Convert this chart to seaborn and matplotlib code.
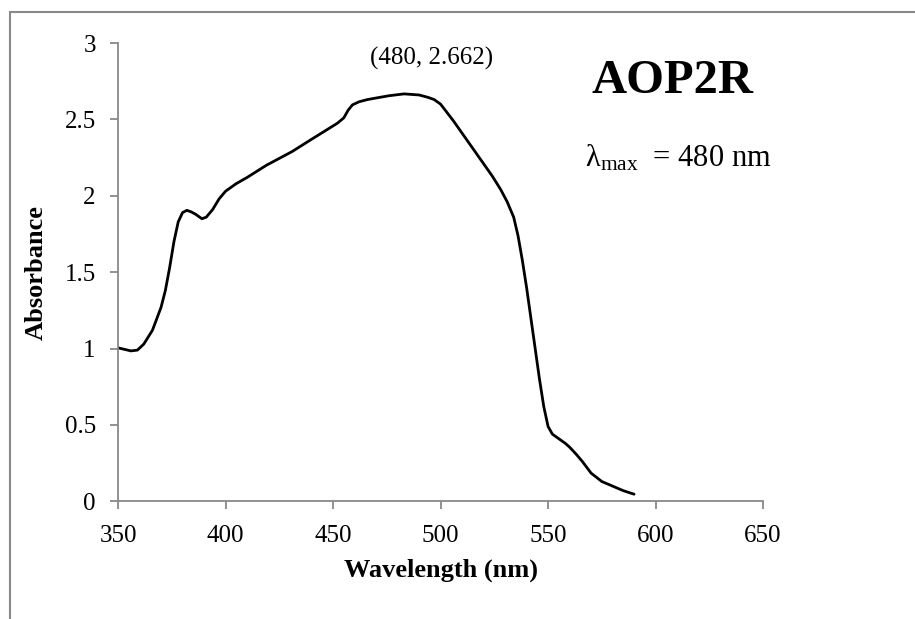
import matplotlib
matplotlib.use("Agg")
import matplotlib.pyplot as plt
import matplotlib.patches as mpatches
import seaborn as sns
import pandas as pd

# spectrum
wavelength = [350, 353, 356, 359, 362, 366, 370, 372, 374, 376, 378, 380, 382, 384,
              386, 389, 391, 394, 397, 400, 405, 410, 419, 431, 440, 448, 452, 455,
              457, 459, 462, 466, 470, 476, 483, 490, 494, 497, 500, 506, 512, 518,
              524, 528, 531, 534, 536, 538, 540, 542, 544, 546, 548, 550, 552, 555,
              558, 560, 563, 566, 570, 575, 580, 585, 590]
absorbance = [1.005, 0.995, 0.985, 0.99, 1.03, 1.12, 1.27, 1.38, 1.53, 1.70, 1.83,
              1.89, 1.905, 1.895, 1.88, 1.85, 1.86, 1.91, 1.98, 2.03, 2.08, 2.12,
              2.2, 2.29, 2.37, 2.44, 2.475, 2.51, 2.56, 2.595, 2.615, 2.63, 2.64,
              2.655, 2.667, 2.66, 2.645, 2.63, 2.60, 2.49, 2.37, 2.25, 2.13, 2.04,
              1.96, 1.86, 1.74, 1.58, 1.40, 1.20, 1.00, 0.80, 0.62, 0.49, 0.44, 0.41,
              0.38, 0.355, 0.31, 0.26, 0.185, 0.13, 0.10, 0.07, 0.047]
peak_label = "(480, 2.662)"
sample_name = "AOP2R"
x_ticks = [350, 400, 450, 500, 550, 600, 650]
y_ticks = [0, 0.5, 1, 1.5, 2, 2.5, 3]
y_tick_labels = ["0", "0.5", "1", "1.5", "2", "2.5", "3"]

df = pd.DataFrame({"Wavelength": wavelength, "Absorbance": absorbance})

sns.set_theme(style="ticks")
plt.rcParams["font.family"] = ["Liberation Serif", "DejaVu Serif"]
plt.rcParams["mathtext.default"] = "regular"
plt.rcParams["text.color"] = "black"
plt.rcParams["axes.labelcolor"] = "black"

axis_grey = "#898989"
fig = plt.figure(figsize=(9.15, 6.19), dpi=100)
ax = fig.add_axes([0.129, 0.19, 0.705, 0.7405])

sns.lineplot(data=df, x="Wavelength", y="Absorbance", ax=ax, color="black",
             linewidth=2.0, sort=False)

ax.set_xlim(350, 650)
ax.set_ylim(0, 3)
ax.set_xticks(x_ticks)
ax.set_yticks(y_ticks)
ax.set_yticklabels(y_tick_labels)
sns.despine(ax=ax)
for side in ["left", "bottom"]:
    ax.spines[side].set_color(axis_grey)
    ax.spines[side].set_linewidth(1.3)
ax.tick_params(axis="both", labelsize=18, colors=axis_grey, labelcolor="black",
               length=6, width=1.3, direction="out")
ax.tick_params(axis="x", pad=11)
ax.tick_params(axis="y", pad=10)

ax.set_xlabel("Wavelength (nm)", fontsize=19, fontweight="bold", labelpad=8)
ax.set_ylabel("Absorbance", fontsize=19, fontweight="bold", labelpad=12)

ax.text(496, 2.86, peak_label, fontsize=18, ha="center", va="baseline")
ax.text(608, 2.675, sample_name, fontsize=35, fontweight="bold", ha="center", va="baseline")
ax.text(567, 2.19, r"$\lambda_{max}$  = 480 nm", fontsize=22, ha="left", va="baseline")

# chart-area border, cut off on the right and bottom like the original
frame = mpatches.Rectangle((10 / 915, -0.2), 1.2, 1.2 - 12 / 619, transform=fig.transFigure,
                           fill=False, edgecolor=axis_grey, linewidth=1.5, clip_on=False)
fig.patches.append(frame)

plt.savefig("out.png", dpi=100)
